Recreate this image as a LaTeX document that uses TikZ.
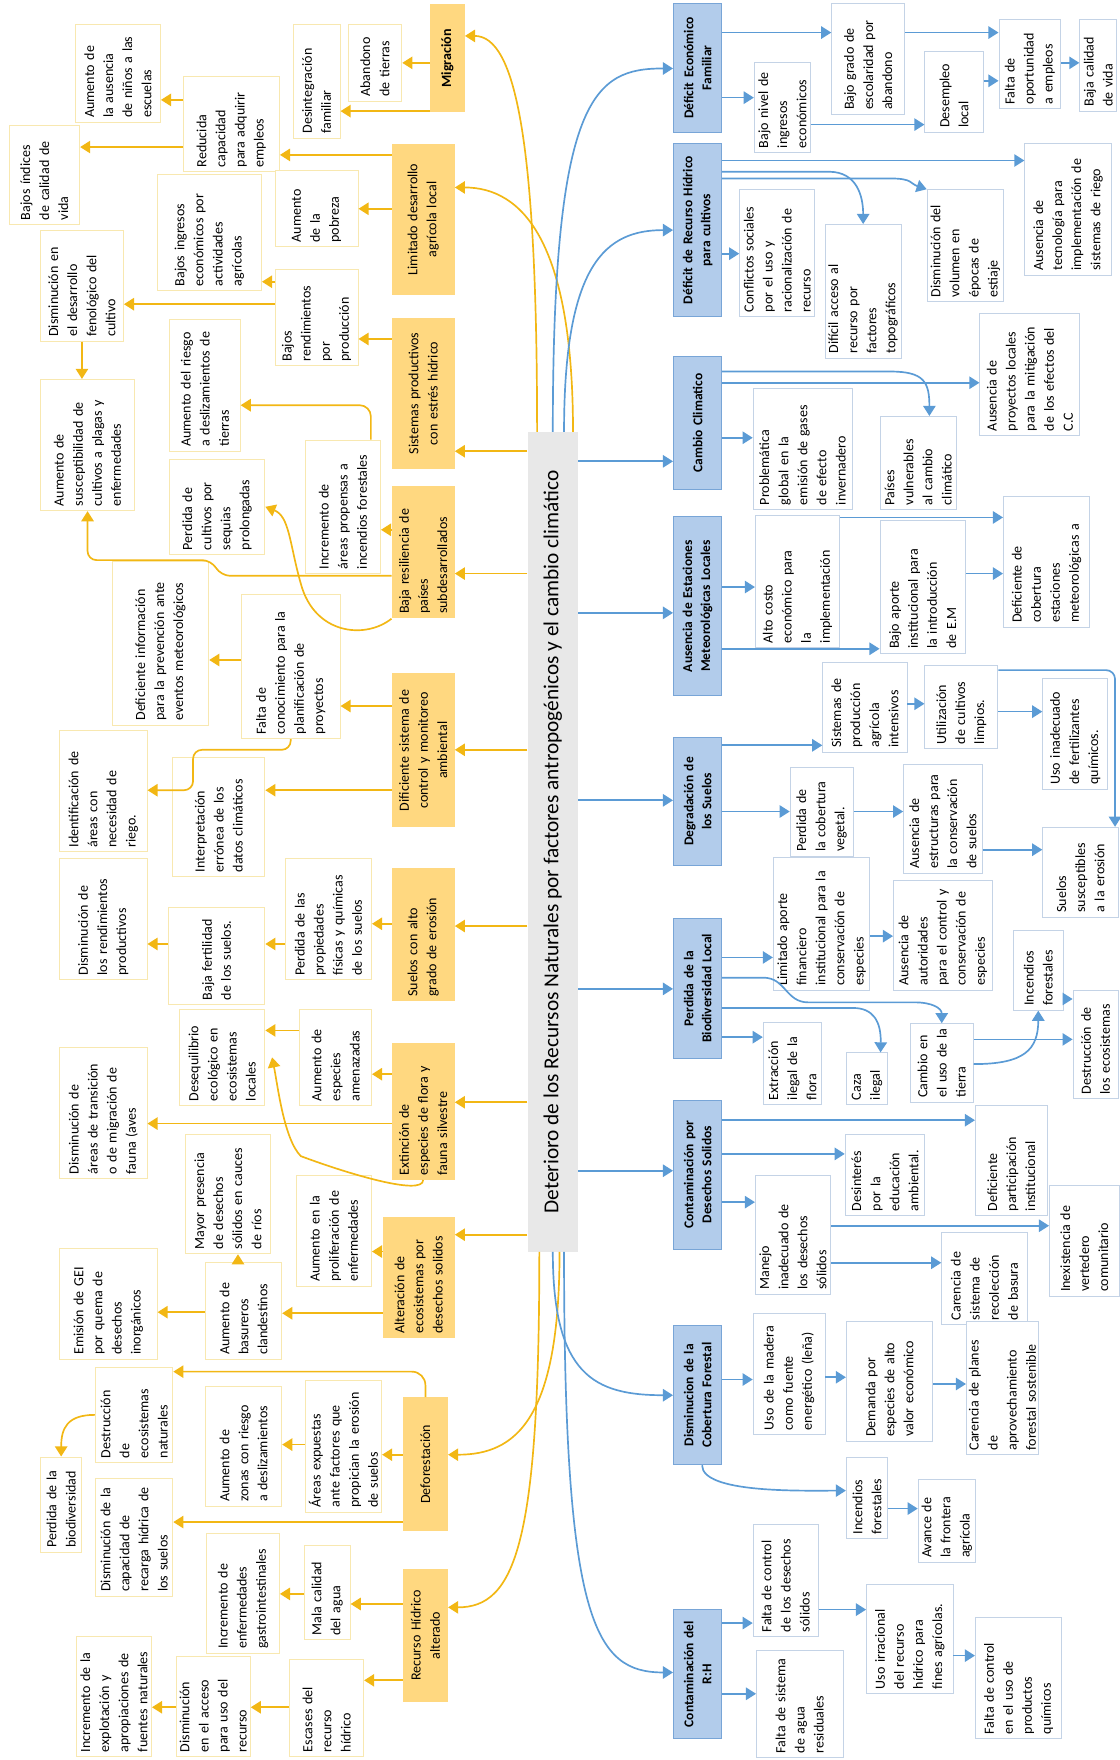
\documentclass[tikz,border=0pt]{standalone}
\usepackage{fontspec}
\setmainfont{Carlito}
\usepackage{tikz}
\usetikzlibrary{arrows.meta,calc}
\definecolor{yfill}{RGB}{255,216,128}
\definecolor{yline}{RGB}{242,183,20}
\definecolor{yedge}{RGB}{248,232,176}
\definecolor{bfill}{RGB}{178,204,235}
\definecolor{bdraw}{RGB}{120,165,215}
\definecolor{bline}{RGB}{91,155,213}
\definecolor{bedge}{RGB}{196,211,230}
\definecolor{corefill}{RGB}{232,232,232}
\newcommand{\jl}[1]{\makebox[\hsize][s]{#1}}

\begin{document}
\begin{tikzpicture}[
  x=1pt, y=-1pt,
  every node/.style={font=\fontsize{12.5}{17}\selectfont},
  leaf/.style={rectangle, rotate=90, inner xsep=4pt, inner ysep=2pt, align=left},
  yleaf/.style={leaf, fill=white, draw=yedge, line width=0.8pt},
  bleaf/.style={leaf, fill=white, draw=bedge, line width=0.8pt},
  ymain/.style={leaf, fill=yfill, align=center},
  bmain/.style={leaf, fill=bfill, draw=bdraw, line width=0.8pt, align=center,
                font=\fontsize{12}{16}\selectfont\bfseries},
  strong/.style={font=\fontsize{12.5}{17}\selectfont\bfseries},
  hub/.style={rotate=90, fill=corefill, inner sep=0pt, minimum width=730pt,
              minimum height=45pt, font=\fontsize{19}{22}\selectfont},
  ya/.style={draw=yline, line width=1.5pt, -{Triangle[length=9pt, width=11pt]}},
  ba/.style={draw=bline, line width=1.5pt, -{Triangle[length=9pt, width=11pt]}},
]
\useasboundingbox (0,0) rectangle (997,1568);
% box from x1..x2 (across) and y1..y2 (along), text turned a quarter left
\newcommand{\mapbox}[7]{%
  \pgfmathsetmacro{\mbw}{#6-#5-8}\pgfmathsetmacro{\mbh}{#4-#3}%
  \node[#1, text width=\mbw pt, minimum height=\mbh pt] (#2) at ({(#3+#4)/2},{(#5+#6)/2}) {#7};}
\newcommand{\yarr}[3]{\draw[ya] (#1.north |- 0,#3) -- (#2.south |- 0,#3);}
\newcommand{\barr}[3]{\draw[ba] (#1.south |- 0,#3) -- (#2.north |- 0,#3);}
% ---------------- centre ----------------
\node[hub] (core) at (492.5,750) {Deterioro de los Recursos Naturales por factores antropogénicos y el cambio climático};
% ---------------- anthropogenic side ----------------
\mapbox{ymain,strong}{ymig}{383}{414}{4}{100}{Migración}
\mapbox{ymain}{ylim}{349}{405}{128}{263}{Limitado desarrollo\\agrícola local}
\mapbox{ymain}{ysis}{349}{405}{283}{418}{Sistemas productivos\\con estrés hídrico}
\mapbox{ymain,align=left}{ybaja}{349}{405}{433}{551}{\jl{Baja resiliencia de}\\países\\subdesarrollados}
\mapbox{ymain}{ydif}{349}{405}{600}{737}{Dificiente sistema de\\control y monitoreo\\ambiental}
\mapbox{ymain,align=left}{ysue}{349}{405}{773}{892}{\jl{Suelos con alto}\\grado de erosión}
\mapbox{ymain,align=left}{yext}{349}{405}{929}{1051}{\jl{Extinción de}\\\jl{especies de flora y}\\fauna silvestre}
\mapbox{ymain,align=left}{yalt}{341}{405}{1084}{1192}{\jl{Alteración de}\\\jl{ecosistemas por}\\desechos solidos}
\mapbox{ymain}{ydef}{359}{399}{1245}{1364}{Deforestación}
\mapbox{ymain}{yrec}{359}{399}{1398}{1516}{Recurso Hídrico\\alterado}
% consequences
\mapbox{yleaf}{ausn}{67}{143}{22}{109}{\jl{Aumento de}\\\jl{la ausencia}\\\jl{de niños a las}\\escuelas}
\mapbox{yleaf}{reduc}{163}{249}{68}{153}{Reducida\\capacidad\\\jl{para adquirir}\\empleos}
\mapbox{yleaf}{indices}{8}{71}{112}{200}{\jl{Bajos índices}\\\jl{de calidad de}\\vida}
\mapbox{yleaf}{desint}{261}{303}{22}{123}{Desintegración\\familiar}
\mapbox{yleaf}{aband}{310}{358}{22}{90}{Abandono\\de tierras}
\mapbox{yleaf}{ingres}{140}{233}{155}{259}{\jl{Bajos ingresos}\\\jl{económicos por}\\actividades\\agrícolas}
\mapbox{yleaf}{pobre}{245}{319}{152}{220}{Aumento\\\jl{de la}\\pobreza}
\mapbox{yleaf}{fenol}{36}{110}{205}{304}{\jl{Disminución en}\\\jl{el desarrollo}\\\jl{fenológico del}\\cultivo}
\mapbox{yleaf}{rendim}{245}{319}{240}{326}{Bajos\\rendimientos\\por\\producción}
\mapbox{yleaf}{suscep}{36}{120}{338}{455}{\jl{Aumento de}\\\jl{susceptibilidad de}\\\jl{cultivos a plagas y}\\enfermedades}
\mapbox{yleaf}{riesgo}{151}{214}{285}{402}{\jl{Aumento del riesgo}\\\jl{a deslizamientos de}\\tierras}
\mapbox{yleaf}{sequia}{151}{236}{409}{494}{\jl{Perdida de}\\\jl{cultivos por}\\sequias\\prolongadas}
\mapbox{yleaf}{incend}{272}{339}{392}{511}{\jl{Incremento de}\\\jl{áreas propensas a}\\incendios forestales}
\mapbox{yleaf}{definf}{100}{186}{500}{646}{\jl{Deficiente información}\\\jl{para la prevención ante}\\eventos meteorológicos}
\mapbox{yleaf}{conoc}{215}{303}{530}{658}{\jl{Falta de}\\\jl{conocimiento para la}\\\jl{planificación de}\\proyectos}
\mapbox{yleaf}{ident}{53}{131}{651}{759}{\jl{Identificación de}\\\jl{áreas con}\\\jl{necesidad de}\\riego.}
\mapbox{yleaf}{interp}{154}{236}{675}{781}{Interpretación\\\jl{errónea de los}\\datos climáticos}
\mapbox{yleaf}{rendprod}{53}{131}{765}{873}{\jl{Disminución de}\\\jl{los rendimientos}\\productivos}
\mapbox{yleaf}{fertil}{150}{236}{808}{895}{Baja fertilidad\\de los suelos.}
\mapbox{yleaf}{propied}{254}{331}{765}{873}{\jl{Perdida de las}\\propiedades\\físicas y químicas\\de los suelos}
\mapbox{yleaf}{deseq}{160}{236}{899}{985}{Desequilibrio\\\jl{ecológico en}\\ecosistemas\\locales}
\mapbox{yleaf}{amenaz}{267}{331}{899}{985}{\jl{Aumento de}\\especies\\amenazadas}
\mapbox{yleaf}{transic}{53}{131}{933}{1050}{\jl{Disminución de}\\áreas de transición\\o de migración de\\fauna (aves}
\mapbox{yleaf}{mayor}{165}{241}{1011}{1117}{\jl{Mayor presencia}\\\jl{de desechos}\\sólidos en cauces\\de ríos}
\mapbox{yleaf}{prolif}{264}{331}{1047}{1146}{\jl{Aumento en la}\\\jl{proliferación de}\\enfermedades}
\mapbox{yleaf}{gei}{53}{140}{1112}{1211}{\jl{Emisión de GEI}\\\jl{por quema de}\\desechos\\inorgánicos}
\mapbox{yleaf}{basur}{183}{251}{1125}{1211}{\jl{Aumento de}\\basureros\\clandestinos}
\mapbox{yleaf}{destnat}{85}{154}{1218}{1303}{Destrucción\\de\\ecosistemas\\naturales}
\mapbox{yleaf}{zonas}{183}{251}{1235}{1342}{Aumento de\\zonas con riesgo\\a deslizamientos}
\mapbox{yleaf}{expue}{272}{340}{1230}{1347}{Áreas expuestas\\ante factores que\\propician la erosión\\de suelos}
\mapbox{yleaf}{biodiv}{36}{73}{1298}{1383}{Perdida de la\\biodiversidad}
\mapbox{yleaf}{recarga}{85}{154}{1317}{1422}{Disminución de la\\capacidad de\\recarga hídrica de\\los suelos}
\mapbox{yleaf}{gastro}{184}{249}{1366}{1473}{\jl{Incremento de}\\enfermedades\\gastrointestinales}
\mapbox{yleaf}{malacal}{271}{312}{1377}{1461}{\jl{Mala calidad}\\del agua}
\mapbox{yleaf}{explot}{68}{135}{1458}{1565}{\jl{Incremento de la}\\\jl{explotación y}\\\jl{apropiaciones de}\\fuentes naturales}
\mapbox{yleaf}{acceso}{157}{223}{1476}{1565}{Disminución\\\jl{en el acceso}\\\jl{para uso del}\\recurso}
\mapbox{yleaf}{escas}{258}{324}{1478}{1565}{\jl{Escases del}\\recurso\\hídrico}
% ---------------- climate side ----------------
\mapbox{bmain}{bdef}{600}{643}{3}{118}{Déficit Económico\\Familiar}
\mapbox{bmain}{bhid}{600}{643}{128}{282}{Déficit de Recurso Hídrico\\para cultivos}
\mapbox{bmain}{bcam}{600}{643}{318}{436}{Cambio Climatico}
\mapbox{bmain}{baus}{600}{643}{460}{620}{Ausencia de Estaciones\\Meteorológicas Locales}
\mapbox{bmain}{bdeg}{600}{643}{657}{771}{Degradación de\\los Suelos}
\mapbox{bmain}{bper}{600}{643}{818}{943}{Perdida de la\\Biodiversidad Local}
\mapbox{bmain}{bcon}{600}{643}{980}{1113}{Contaminación por\\Desechos Solidos}
\mapbox{bmain}{bdis}{600}{643}{1181}{1305}{Disminucion de la\\Cobertura Forestal}
\mapbox{bmain}{bcrh}{600}{643}{1434}{1549}{Contaminación del\\R:H}
% consequences
\mapbox{bleaf}{bnivel}{672}{722}{56}{136}{Bajo nivel de\\ingresos\\económicos}
\mapbox{bleaf}{bgrado}{741}{806}{3}{102}{\jl{Bajo grado de}\\\jl{escolaridad por}\\abandono}
\mapbox{bleaf}{bdesem}{824}{876}{46}{118}{Desempleo\\local}
\mapbox{bleaf}{bfalta}{890}{945}{17}{97}{\jl{Falta de}\\oportunidad\\a empleos}
\mapbox{bleaf}{bcalid}{962}{995}{17}{99}{\jl{Baja calidad}\\de vida}
\mapbox{bleaf}{bconfl}{659}{726}{169}{282}{Conflictos sociales\\por el uso y\\racionalización de\\recurso}
\mapbox{bleaf}{bdific}{735}{803}{200}{319}{Difícil acceso al\\recurso por\\factores\\topográficos}
\mapbox{bleaf}{bvolum}{826}{894}{169}{269}{Disminución del\\volumen en\\épocas de\\estiaje}
\mapbox{bleaf}{btecno}{913}{990}{128}{245}{Ausencia de\\tecnología para\\implementación de\\sistemas de riego}
\mapbox{bleaf}{bprobl}{671}{759}{346}{454}{Problemática\\\jl{global en la}\\\jl{emisión de gases}\\\jl{de efecto}\\invernadero}
\mapbox{bleaf}{bpaises}{784}{852}{371}{454}{Países\\vulnerables\\\jl{al cambio}\\climático}
\mapbox{bleaf}{bproy}{873}{962}{279}{388}{\jl{Ausencia de}\\\jl{proyectos locales}\\\jl{para la mitigación}\\\jl{de los efectos del}\\C.C}
\mapbox{bleaf}{balto}{673}{748}{459}{577}{\jl{Alto costo}\\\jl{económico para}\\la\\implementación}
\mapbox{bleaf}{bbajoap}{784}{860}{464}{582}{\jl{Bajo aporte}\\\jl{institucional para}\\\jl{la introducción}\\de E.M}
\mapbox{bleaf}{bcobert}{894}{971}{442}{559}{\jl{Deficiente de}\\cobertura\\estaciones\\meteorológicas a}
\mapbox{bleaf}{bsisprod}{733}{808}{590}{670}{\jl{Sistemas de}\\producción\\agrícola\\intensivos}
\mapbox{bleaf}{butil}{824}{889}{593}{667}{Utilización\\\jl{de cultivos}\\limpios.}
\mapbox{bleaf}{bfertil}{929}{987}{604}{703}{\jl{Uso inadecuado}\\\jl{de fertilizantes}\\químicos.}
\mapbox{bleaf}{bcobveg}{704}{760}{684}{763}{\jl{Perdida de}\\\jl{la cobertura}\\vegetal.}
\mapbox{bleaf}{bestruc}{805}{875}{681}{778}{\jl{Ausencia de}\\\jl{estructuras para}\\\jl{la conservación}\\de suelos}
\mapbox{bleaf}{bsuscep}{929}{996}{737}{817}{Suelos\\susceptibles\\a la erosión}
\mapbox{bleaf}{bfinan}{689}{775}{764}{882}{\jl{Limitado aporte}\\financiero\\\jl{institucional para la}\\\jl{conservación de}\\especies}
\mapbox{bleaf}{bautor}{796}{884}{784}{882}{\jl{Ausencia de}\\autoridades\\para el control y\\conservación de\\especies}
\mapbox{bleaf}{bextrac}{680}{732}{911}{984}{Extracción\\ilegal de la\\flora}
\mapbox{bleaf}{bcaza}{754}{791}{938}{984}{Caza\\ilegal}
\mapbox{bleaf}{bcambio}{811}{867}{912}{982}{\jl{Cambio en}\\el uso de la\\tierra}
\mapbox{bleaf}{bincend}{903}{947}{829}{900}{Incendios\\forestales}
\mapbox{bleaf}{bdestr}{956}{996}{882}{979}{\jl{Destrucción de}\\los ecosistemas}
\mapbox{bleaf}{bdefpart}{869}{933}{985}{1083}{Deficiente\\participación\\institucional}
\mapbox{bleaf}{bdesint}{753}{824}{1011}{1083}{Desinterés\\\jl{por la}\\educación\\ambiental.}
\mapbox{bleaf}{bmanejo}{673}{740}{1047}{1153}{Manejo\\\jl{inadecuado de}\\\jl{los desechos}\\sólidos}
\mapbox{bleaf}{binexist}{935}{997}{1056}{1155}{\jl{Inexistencia de}\\vertedero\\comunitario}
\mapbox{bleaf}{brecol}{839}{915}{1098}{1180}{\jl{Carencia de}\\\jl{sistema de}\\recolección\\de basura}
\mapbox{bleaf}{bmadera}{671}{735}{1170}{1278}{Uso de la madera\\\jl{como fuente}\\energético (leña)}
\mapbox{bleaf}{bdemanda}{754}{831}{1177}{1284}{\jl{Demanda por}\\\jl{especies de alto}\\valor económico}
\mapbox{bleaf}{bplanes}{861}{925}{1177}{1296}{\jl{Carencia de planes}\\de\\aprovechamiento\\forestal sostenible}
\mapbox{bleaf}{bincfor}{754}{791}{1298}{1371}{Incendios\\forestales}
\mapbox{bleaf}{bavance}{818}{869}{1318}{1392}{\jl{Avance de}\\\jl{la frontera}\\agrícola}
\mapbox{bleaf}{bfaltad}{671}{729}{1358}{1458}{Falta de control\\de los desechos\\sólidos}
\mapbox{bleaf}{bresid}{674}{751}{1470}{1566}{Falta de sistema\\\jl{de agua}\\residuales}
\mapbox{bleaf}{birrac}{772}{849}{1412}{1509}{\jl{Uso irracional}\\\jl{del recurso}\\\jl{hídrico para}\\fines agrícolas.}
\mapbox{bleaf}{bquim}{869}{946}{1441}{1549}{\jl{Falta de control}\\\jl{en el uso de}\\productos\\químicos}
% ---------------- centre -> causes ----------------
\yarr{core}{ysis}{402} \yarr{core}{ybaja}{511} \yarr{core}{ydif}{668}
\yarr{core}{ysue}{825} \yarr{core}{yext}{982} \yarr{core}{yalt}{1100}
\draw[ya] ($(core.east)+(-14,0)$) .. controls +(0,-260) and +(45,0) .. (ymig.south |- 0,32);
\draw[ya] ($(core.east)+(18,0)$) .. controls +(0,-170) and +(60,0) .. (ylim.south |- 0,167);
\draw[ya] ($(core.west)+(-12,0)$) .. controls +(0,260) and +(60,0) .. (yrec.south |- 0,1432);
\draw[ya] ($(core.west)+(6,0)$) .. controls +(0,150) and +(60,0) .. (ydef.south |- 0,1296);
\draw[ba] (core.east) .. controls +(0,-300) and +(-70,0) .. (bdef.north |- 0,61);
\draw[ba] ($(core.east)+(10,0)$) .. controls +(0,-150) and +(-60,0) .. (bhid.north |- 0,205);
\draw[ba] (core.west) .. controls +(0,110) and +(-70,0) .. (bdis.north |- 0,1243);
\draw[ba] ($(core.west)+(10,0)$) .. controls +(0,330) and +(-70,0) .. (bcrh.north |- 0,1490);
\barr{core}{bcam}{411} \barr{core}{baus}{546} \barr{core}{bdeg}{713}
\barr{core}{bper}{881} \barr{core}{bcon}{1043}
% ---------------- yellow chains ----------------
\yarr{ymig}{aband}{56} \yarr{ymig}{desint}{99}
\yarr{ylim}{reduc}{138} \yarr{ylim}{pobre}{186}
\yarr{reduc}{ausn}{89} \yarr{reduc}{indices}{131}
\yarr{ysis}{rendim}{302} \yarr{rendim}{ingres}{251} \yarr{rendim}{fenol}{271}
\draw[ya] (fenol.west) -- (fenol.west |- suscep.east);
\yarr{ybaja}{incend}{472}
\draw[ya, rounded corners=10pt] ($(incend.south east)+(-9,0)$) |- (riesgo.south |- 0,361);
\draw[ya, rounded corners=8pt] (ybaja.north |- 0,513) -- (197,513) -- (188,499) -| (suscep.west);
\draw[ya] (ybaja.north west) .. controls (325,570) and (280,565) .. (268,520)
  .. controls (258,485) and (258,460) .. (sequia.south);
\yarr{ydif}{conoc}{629} \yarr{conoc}{definf}{588}
\draw[ya, rounded corners=8pt] (conoc.west) |- (172,668) |- (ident.south |- 0,704);
\yarr{ydif}{interp}{704}
\yarr{ysue}{propied}{823} \yarr{propied}{fertil}{841} \yarr{fertil}{rendprod}{841}
\yarr{yext}{amenaz}{957} \yarr{amenaz}{deseq}{918} \yarr{yext}{transic}{1001}
\draw[ya] (yext.west) .. controls +(0,15) and +(40,15) .. (268,1030)
  .. controls +(-15,-15) and +(5,25) .. ($(deseq.south)+(6,0)$);
\yarr{yalt}{prolif}{1115} \yarr{yalt}{basur}{1170} \yarr{basur}{gei}{1169}
\draw[ya] ($(basur.east)+(-5,0)$) -- ($(basur.east |- mayor.west)+(-5,0)$);
\draw[ya, rounded corners=12pt] (ydef.east) |- (destnat.south |- 0,1222);
\yarr{ydef}{expue}{1296} \yarr{expue}{zonas}{1287} \yarr{ydef}{recarga}{1356}
\draw[ya] (destnat.north) .. controls +(-25,0) and +(0,-25) .. (biodiv.east);
\yarr{yrec}{malacal}{1429} \yarr{malacal}{gastro}{1420}
\yarr{yrec}{escas}{1497} \yarr{escas}{acceso}{1521} \yarr{acceso}{explot}{1521}
% ---------------- blue chains ----------------
\barr{bdef}{bgrado}{29} \barr{bdef}{bnivel}{87} \barr{bnivel}{bdesem}{111}
\barr{bgrado}{bfalta}{29} \barr{bdesem}{bfalta}{72} \barr{bfalta}{bcalid}{56}
\barr{bhid}{btecno}{143}
\draw[ba] (bhid.south |- 0,153) -- ++(95,0) .. controls +(25,0) and +(0,-25) .. (bdific.east);
\draw[ba] (bhid.south |- 0,159) -- ++(150,0) .. controls +(20,0) and +(-15,-5) .. (bvolum.north east);
\barr{bhid}{bconfl}{226}
\barr{bcam}{bproy}{341}
\draw[ba] (bcam.south |- 0,331) -- ++(150,0) .. controls +(30,0) and +(0,-30) .. ($(bpaises.east)+(10,0)$);
\barr{bcam}{bprobl}{390}
\barr{baus}{balto}{523} \barr{baus}{bbajoap}{578}
\barr{balto}{bcobert}{461} \barr{bbajoap}{bcobert}{511}
\barr{bdeg}{bsisprod}{664} \barr{bdeg}{bcobveg}{723}
\barr{bsisprod}{butil}{627} \barr{butil}{bfertil}{634}
\draw[ba, rounded corners=8pt] (butil.south |- 0,597) -| ($(bsuscep.south east)+(-3,0)$);
\barr{bcobveg}{bestruc}{723} \barr{bestruc}{bsuscep}{757}
\barr{bper}{bfinan}{853} \barr{bfinan}{bautor}{834} \barr{bper}{bextrac}{924}
\draw[ba] (bper.south |- 0,871) -- (680,871) .. controls (700,871) and (700,893) .. (720,893)
  -- (815,893) .. controls (830,893) and (839,898) .. (bcambio.east);
\draw[ba] (bper.south |- 0,898) -- (760,898) .. controls (778,898) and (785,910) .. ($(bcaza.east)+(12,0)$);
\barr{bcambio}{bdestr}{926}
\draw[ba] (bcambio.south |- 0,948) .. controls +(45,0) and +(0,35) .. (bincend.west);
\barr{bincend}{bdestr}{890}
\barr{bcon}{bdefpart}{998} \barr{bcon}{bdesint}{1028} \barr{bcon}{bmanejo}{1071}
\barr{bmanejo}{binexist}{1092} \barr{bmanejo}{brecol}{1125}
\barr{bdis}{bmadera}{1229} \barr{bmadera}{bdemanda}{1227} \barr{bdemanda}{bplanes}{1233}
\draw[ba] ($(bdis.west)+(4,0)$) .. controls +(0,25) and +(-40,0) .. (bincfor.north |- 0,1328);
\barr{bincfor}{bavance}{1344}
\barr{bcrh}{bfaltad}{1446} \barr{bcrh}{bresid}{1509}
\barr{bfaltad}{birrac}{1434} \barr{birrac}{bquim}{1475}
\end{tikzpicture}
\end{document}
